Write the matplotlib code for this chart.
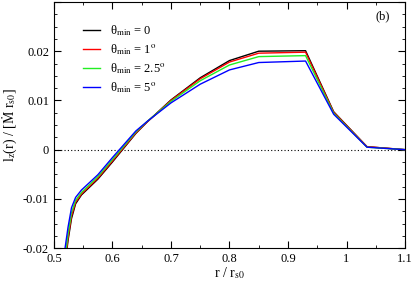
import matplotlib
matplotlib.use("Agg")
import matplotlib.pyplot as plt
from matplotlib.ticker import MultipleLocator

plt.rcParams["font.family"] = ["Liberation Serif", "DejaVu Serif"]
plt.rcParams["mathtext.fontset"] = "stix"

# r / r_s0 sample points and l_z(r) for each theta_min
r_vals = [0.519, 0.524, 0.530, 0.537, 0.547, 0.575, 0.600, 0.640, 0.660,
          0.700, 0.750, 0.800, 0.850, 0.930, 0.978, 1.035, 1.100]
lz_0 = [-0.0235, -0.0185, -0.0140, -0.0110, -0.0092, -0.0060, -0.0025, 0.0033, 0.0057,
        0.0101, 0.0146, 0.0181, 0.0200, 0.0201, 0.0077, 0.0006, 0.0]
lz_1 = [-0.0228, -0.0180, -0.0135, -0.0107, -0.0090, -0.0058, -0.0023, 0.0034, 0.0057,
        0.0100, 0.0144, 0.0178, 0.0196, 0.0198, 0.0076, 0.0006, 0.0]
lz_25 = [-0.0218, -0.0172, -0.0128, -0.0103, -0.0087, -0.0055, -0.0020, 0.0036, 0.0058,
         0.0098, 0.0140, 0.0172, 0.0189, 0.0191, 0.0074, 0.0005, 0.0]
lz_5 = [-0.0200, -0.0158, -0.0118, -0.0097, -0.0082, -0.0051, -0.0016, 0.0038, 0.0058,
        0.0095, 0.0133, 0.0162, 0.0177, 0.0180, 0.0072, 0.0005, 0.0]

series = [
    (lz_0, "black", r"θ$_{\mathrm{min}}$ = 0"),
    (lz_1, "red", r"θ$_{\mathrm{min}}$ = 1$^{\mathrm{o}}$"),
    (lz_25, "#22ee22", r"θ$_{\mathrm{min}}$ = 2.5$^{\mathrm{o}}$"),
    (lz_5, "blue", r"θ$_{\mathrm{min}}$ = 5$^{\mathrm{o}}$"),
]

fig = plt.figure(figsize=(4.15, 2.81), dpi=100)
ax = fig.add_axes([0.130, 0.117, 0.846, 0.876])

ax.axhline(0, color="black", lw=0.8, ls=(0, (1, 2)))
for y, c, lab in series:
    ax.plot(r_vals, y, color=c, lw=1.0, label=lab)

ax.set_xlim(0.5, 1.1)
ax.set_ylim(-0.02, 0.03)
ax.xaxis.set_minor_locator(MultipleLocator(0.05))
ax.yaxis.set_minor_locator(MultipleLocator(0.0025))
ax.set_xticks([0.5, 0.6, 0.7, 0.8, 0.9, 1.0, 1.1])
ax.set_xticklabels(["0.5", "0.6", "0.7", "0.8", "0.9", "1", "1.1"])
ax.set_yticks([-0.02, -0.01, 0, 0.01, 0.02, 0.03])
ax.set_yticklabels(["-0.02", "-0.01", "0", "0.01", "0.02", ""])
ax.tick_params(which="both", direction="in", top=True, right=True, labelsize=9)
ax.tick_params(which="major", length=5)
ax.tick_params(which="minor", length=2.5)

ax.set_xlabel(r"r / r$_{\mathrm{s0}}$", fontsize=10, labelpad=0)
ax.set_ylabel("l$_{\\mathrm{z}}$(r) / [Ṁ r$_{\\mathrm{s0}}$]", fontsize=10, labelpad=3)
ax.text(0.935, 0.94, "(b)", transform=ax.transAxes, fontsize=9, ha="center", va="center")

ax.legend(loc="upper left", bbox_to_anchor=(0.05, 0.96), frameon=False, fontsize=9,
          handlelength=1.4, labelspacing=0.35, handletextpad=0.8)

fig.savefig("out.png", dpi=100)
